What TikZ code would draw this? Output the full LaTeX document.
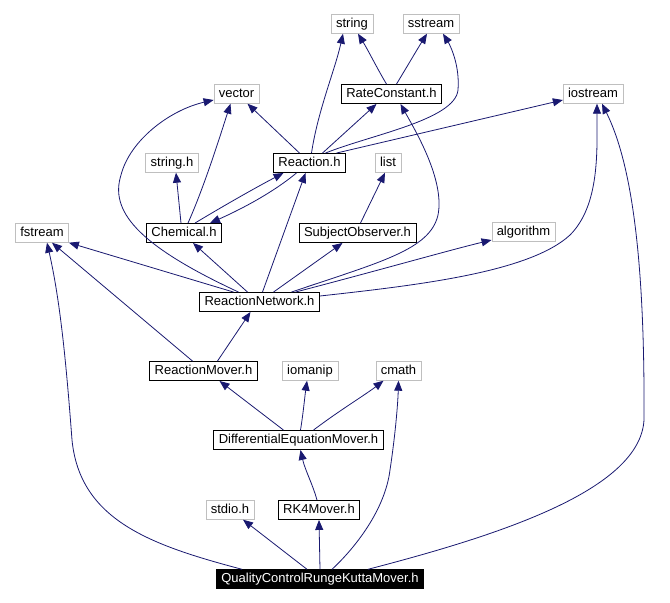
\documentclass[tikz,border=0pt]{standalone}
\usepackage{fontspec}
\setmainfont{Liberation Sans}
\usetikzlibrary{arrows.meta}
\definecolor{edgeblue}{RGB}{25,25,112}
\definecolor{extgray}{RGB}{191,191,191}

\begin{document}
\begin{tikzpicture}[x=1pt, y=-1pt,
    every node/.style={rectangle, draw, inner xsep=5pt, inner ysep=0pt, minimum height=19pt, text height=9.5pt, text depth=3pt, font=\fontsize{13}{15}\selectfont},
    ext/.style={draw=extgray},
    own/.style={draw=black, line width=0.9pt},
    main/.style={fill=black, text=white},
    dep/.style={draw=edgeblue, line width=0.8pt, -{Triangle[length=10pt, width=8pt]}}]
    \useasboundingbox (0,0) rectangle (670,603);
    \node[ext] (string) at (352,24) {string};
    \node[ext] (sstream) at (431,24) {sstream};
    \node[ext] (vector) at (236.5,94) {vector};
    \node[own] (rc) at (391.5,94) {RateConstant.h};
    \node[ext] (iostream) at (593,94) {iostream};
    \node[ext] (stringh) at (172,163) {string.h};
    \node[own] (reaction) at (309.5,163) {Reaction.h};
    \node[ext] (list) at (388,163) {list};
    \node[ext] (fstream) at (42,233) {fstream};
    \node[own] (chemical) at (184,233) {Chemical.h};
    \node[own] (subj) at (357.5,233) {SubjectObserver.h};
    \node[ext] (algorithm) at (523.5,232) {algorithm};
    \node[own] (network) at (259.5,302) {ReactionNetwork.h};
    \node[own] (rmover) at (203.5,371) {ReactionMover.h};
    \node[ext] (iomanip) at (310,371) {iomanip};
    \node[ext] (cmath) at (398.5,371) {cmath};
    \node[own] (dem) at (298.5,440) {DifferentialEquationMover.h};
    \node[ext] (stdio) at (230,510) {stdio.h};
    \node[own] (rk4) at (319,510) {RK4Mover.h};
    \node[main] (qc) at (320,579) {QualityControlRungeKuttaMover.h};
    % Reaction.h
    \draw[dep] ([xshift=-10]reaction.north) -- ([xshift=11]vector.south);
    \draw[dep] ([xshift=2]reaction.north) .. controls (318,110) and (335,70) .. ([xshift=-9]string.south);
    \draw[dep] ([xshift=13]reaction.north) -- ([xshift=-15]rc.south);
    \draw[dep] ([xshift=16]reaction.north) .. controls (370,135) and (455,120) .. (458,90) .. controls (460,65) and (450,45) .. ([xshift=12]sstream.south);
    \draw[dep] ([xshift=27]reaction.north) -- ([yshift=-6]iostream.west);
    \draw[dep] ([xshift=-13]reaction.south) .. controls (270,195) and (235,212) .. ([xshift=26]chemical.north);
    % Chemical.h
    \draw[dep] ([xshift=-3]chemical.north) -- ([xshift=4]stringh.south);
    \draw[dep] ([xshift=4]chemical.north) .. controls (205,185) and (222,130) .. ([xshift=-6]vector.south);
    \draw[dep] ([xshift=11]chemical.north) .. controls (225,205) and (255,188) .. ([xshift=-26]reaction.south);
    % SubjectObserver.h, RateConstant.h
    \draw[dep] ([xshift=3]subj.north) -- ([xshift=-3]list.south);
    \draw[dep] ([xshift=-5]rc.north) .. controls (378,70) and (368,50) .. ([xshift=6]string.south);
    \draw[dep] ([xshift=5]rc.north) .. controls (408,65) and (418,48) .. ([xshift=-4]sstream.south);
    % ReactionNetwork.h
    \draw[dep] ([xshift=-26]network.north) -- (fstream.south east);
    \draw[dep] ([xshift=-21]network.north) .. controls (135,244) and (110,210) .. (121,175) .. controls (130,140) and (170,110) .. ([yshift=-6]vector.west);
    \draw[dep] ([xshift=-12]network.north) -- ([xshift=9]chemical.south);
    \draw[dep] ([xshift=3]network.north) -- ([xshift=-4]reaction.south);
    \draw[dep] ([xshift=14]network.north) -- ([xshift=-15]subj.south);
    \draw[dep] ([xshift=32]network.north) .. controls (380,262) and (430,250) .. (438,215) .. controls (445,180) and (415,130) .. ([xshift=9]rc.south);
    \draw[dep] ([xshift=36]network.north) .. controls (380,270) and (450,250) .. ([yshift=-8]algorithm.west);
    \draw[dep] ([yshift=6]network.east) .. controls (420,285) and (530,272) .. (570,235) .. controls (600,205) and (597,150) .. ([xshift=4]iostream.south);
    % ReactionMover.h
    \draw[dep] ([xshift=14]rmover.north) -- ([xshift=-9]network.south);
    \draw[dep] ([xshift=-11]rmover.north) -- ([xshift=10]fstream.south);
    % DifferentialEquationMover.h
    \draw[dep] ([xshift=-15]dem.north) -- ([xshift=16]rmover.south);
    \draw[dep] ([xshift=2]dem.north) .. controls (303,415) and (305,395) .. ([xshift=-3]iomanip.south);
    \draw[dep] ([xshift=15]dem.north) .. controls (340,410) and (365,395) .. ([xshift=-15]cmath.south);
    % RK4Mover.h
    \draw[dep] ([xshift=-2]rk4.north) .. controls (313,485) and (305,470) .. ([xshift=2]dem.south);
    % QualityControlRungeKuttaMover.h
    \draw[dep] ([xshift=-13]qc.north) -- ([xshift=13]stdio.south);
    \draw[dep] (qc.north) -- (rk4.south);
    \draw[dep] ([xshift=12]qc.north) .. controls (355,548) and (385,510) .. (390,470) .. controls (396,430) and (398,400) .. (cmath.south);
    \draw[dep] ([xshift=-78]qc.north) .. controls (150,545) and (80,520) .. (72,440) .. controls (66,360) and (60,300) .. ([xshift=5]fstream.south);
    \draw[dep] ([xshift=48]qc.north) .. controls (500,535) and (640,490) .. (644,420) .. controls (645,250) and (630,160) .. ([xshift=9]iostream.south);
\end{tikzpicture}
\end{document}
